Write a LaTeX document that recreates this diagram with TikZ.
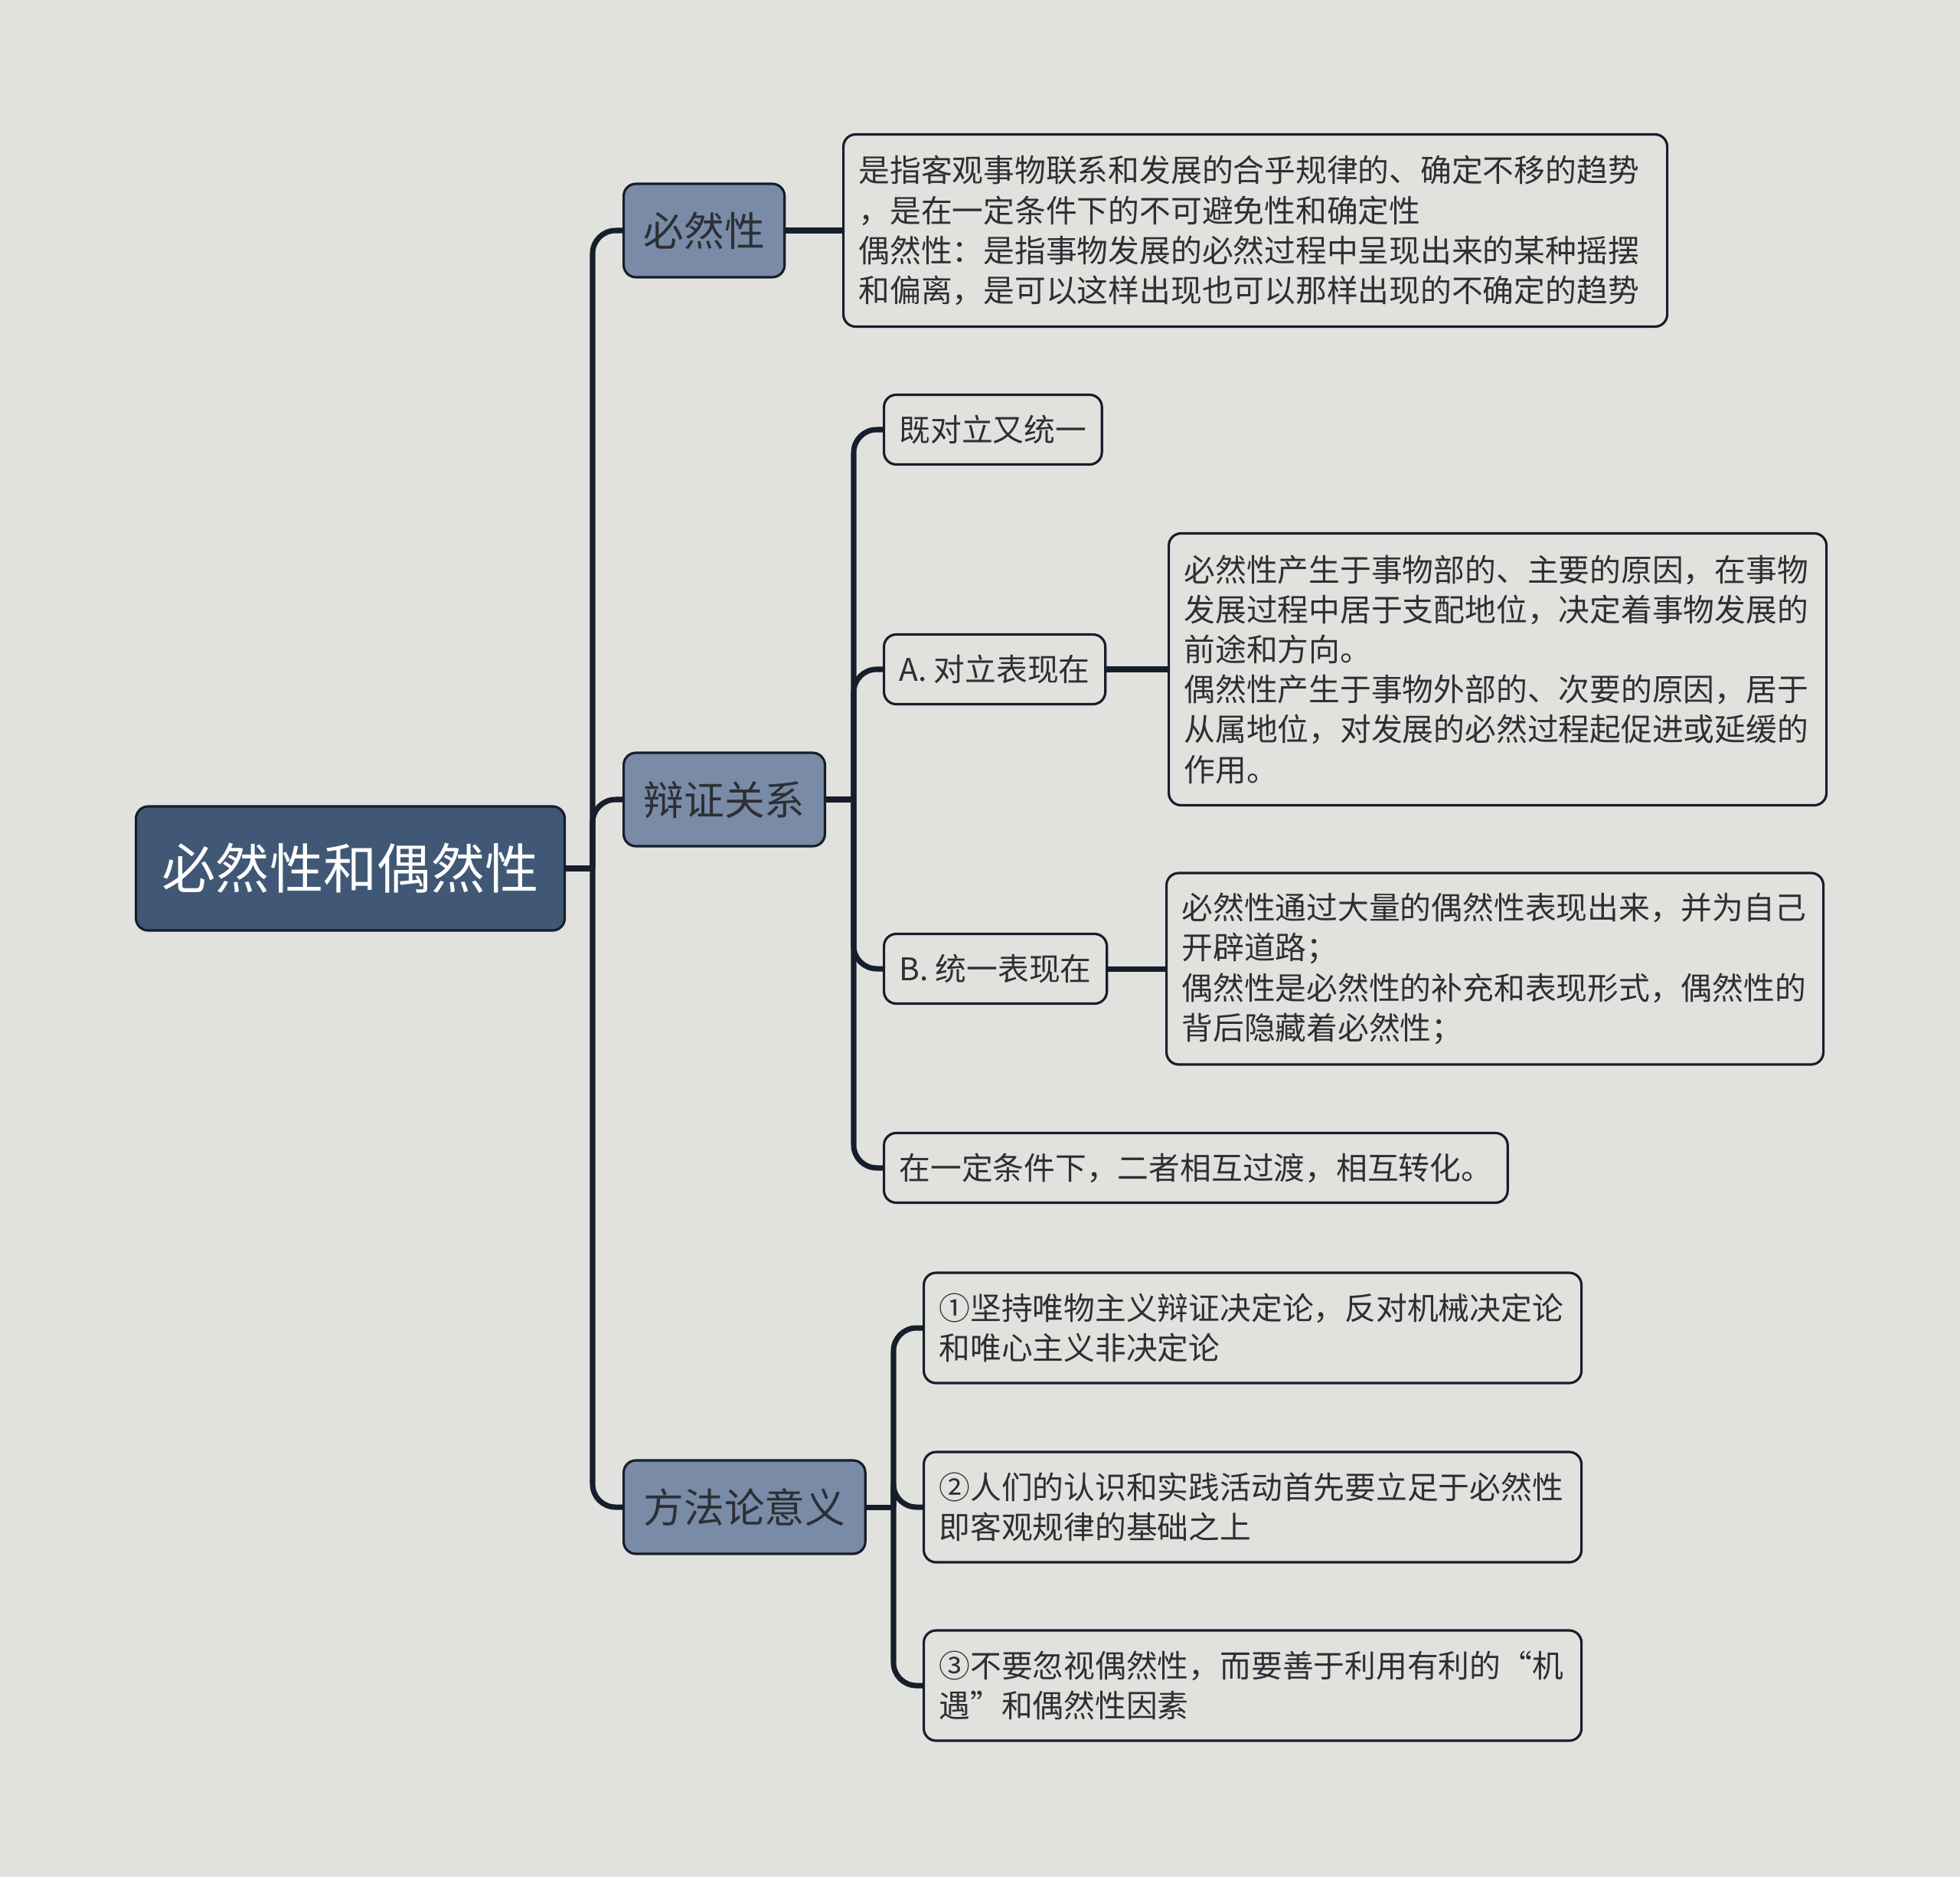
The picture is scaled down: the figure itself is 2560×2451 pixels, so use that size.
\documentclass[tikz,border=0pt]{standalone}
\usepackage{fontspec}
\setmainfont{Noto Sans CJK SC}
\definecolor{bg}{HTML}{E1E2DE}
\definecolor{rootblue}{HTML}{405875}
\definecolor{topicblue}{HTML}{7A8BA7}
\definecolor{edge}{HTML}{161E2B}
\definecolor{ink}{HTML}{2C2F34}

\begin{document}
\begin{tikzpicture}[x=0.1mm,y=-0.1mm,
  every node/.style={anchor=west, draw=edge, line width=0.9pt, rounded corners=1.6mm, text=ink},
  root/.style={fill=rootblue, text=white, font=\fontsize{20}{24}\selectfont, inner xsep=3.4mm, minimum height=16.2mm},
  topic/.style={fill=topicblue, font=\fontsize{15}{18}\selectfont, inner xsep=2.6mm, minimum height=12.2mm},
  leaf/.style={fill=bg, font=\fontsize{11.6}{14.85}\selectfont, inner xsep=2mm, align=left, minimum height=9.1mm},
  link/.style={draw=edge, line width=2pt, rounded corners=3mm}]

\fill[bg] (0,0) rectangle (2560,2451);

\node[root] (root) at (176,1134) {必然性和偶然性};

\node[topic] (need) at (813,301) {必然性};
\node[topic] (dial) at (813,1044) {辩证关系};
\node[topic] (meth) at (813,1968) {方法论意义};

\node[leaf, text width=103.6mm, minimum height=25.1mm] (neednote) at (1100,301) {是指客观事物联系和发展的合乎规律的、确定不移的趋势\\，是在一定条件下的不可避免性和确定性\\偶然性：是指事物发展的必然过程中呈现出来的某种摇摆\\和偏离，是可以这样出现也可以那样出现的不确定的趋势};

\node[leaf] (unity) at (1153,561) {既对立又统一};
\node[leaf] (ta) at (1153,874) {A. 对立表现在};
\node[leaf] (tb) at (1153,1265) {B. 统一表现在};
\node[leaf] (turn) at (1153,1525) {在一定条件下，二者相互过渡，相互转化。};

\node[leaf, text width=81.9mm, minimum height=35.5mm] (tanote) at (1525,874) {必然性产生于事物部的、主要的原因，在事物\\发展过程中居于支配地位，决定着事物发展的\\前途和方向。\\偶然性产生于事物外部的、次要的原因，居于\\从属地位，对发展的必然过程起促进或延缓的\\作用。};
\node[leaf, text width=81.8mm, minimum height=25mm] (tbnote) at (1522,1265) {必然性通过大量的偶然性表现出来，并为自己\\开辟道路；\\偶然性是必然性的补充和表现形式，偶然性的\\背后隐藏着必然性；};

\node[leaf, text width=81.9mm, minimum height=14.4mm] (m1) at (1205,1734) {①坚持唯物主义辩证决定论，反对机械决定论\\和唯心主义非决定论};
\node[leaf, text width=81.9mm, minimum height=14.4mm] (m2) at (1205,1968) {②人们的认识和实践活动首先要立足于必然性\\即客观规律的基础之上};
\node[leaf, text width=81.9mm, minimum height=14.4mm] (m3) at (1205,2201) {③不要忽视偶然性，而要善于利用有利的“机\\遇”和偶然性因素};

\coordinate (rootfork) at (774,1134);
\coordinate (dialfork) at (1115,1044);
\coordinate (methfork) at (1167,1968);

\draw[link] (root.east) -- (rootfork);
\draw[link] (rootfork) |- (need.west);
\draw[link] (rootfork) |- (dial.west);
\draw[link] (rootfork) |- (meth.west);

\draw[link] (need.east) -- (neednote.west);

\draw[link] (dial.east) -- (dialfork);
\draw[link] (dialfork) |- (unity.west);
\draw[link] (dialfork) |- (ta.west);
\draw[link] (dialfork) |- (tb.west);
\draw[link] (dialfork) |- (turn.west);
\draw[link] (ta.east) -- (tanote.west);
\draw[link] (tb.east) -- (tbnote.west);

\draw[link] (meth.east) -- (methfork);
\draw[link] (methfork) |- (m1.west);
\draw[link] (methfork) |- (m2.west);
\draw[link] (methfork) |- (m3.west);
\end{tikzpicture}
\end{document}
